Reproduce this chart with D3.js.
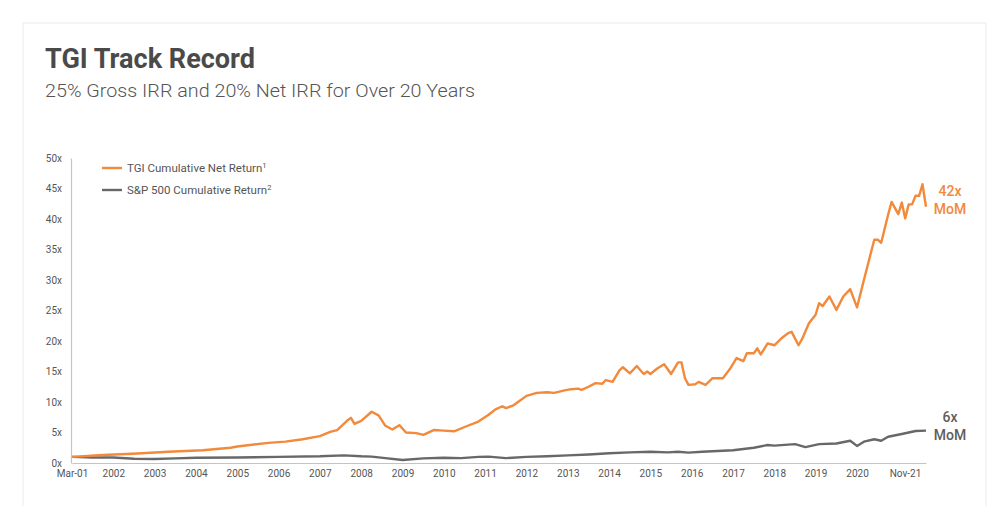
<!DOCTYPE html>
<html>
<head>
<meta charset="utf-8">
<script src="https://cdn.jsdelivr.net/npm/d3@7"></script>
<style>
  body { margin: 0; background: #fff; }
  text { font-family: "Roboto", "DejaVu Sans", sans-serif; }
</style>
</head>
<body>
<div id="chart"></div>
<script>
// TGI cumulative net return (x of initial capital)
const tgiDates = ["2001-03","2001-12","2002-10","2003-07","2004-05","2005-01","2005-03","2005-12","2006-05","2006-10",
  "2007-03","2007-06","2007-08","2007-11","2007-12","2008-01","2008-03","2008-06","2008-08","2008-10",
  "2008-12","2009-02","2009-04","2009-07","2009-09","2009-12","2010-03","2010-06","2010-09","2011-01",
  "2011-04","2011-06","2011-08","2011-09","2011-11","2012-01","2012-03","2012-06","2012-09","2012-11",
  "2013-02","2013-04","2013-06","2013-07","2013-09","2013-11","2014-01","2014-02","2014-04","2014-06",
  "2014-07","2014-09","2014-11","2015-01","2015-02","2015-03","2015-05","2015-07","2015-09","2015-11",
  "2015-12","2016-01","2016-02","2016-04","2016-05","2016-07","2016-09","2016-12","2017-02","2017-04",
  "2017-06","2017-07","2017-09","2017-10","2017-11","2018-01","2018-03","2018-05","2018-07","2018-08",
  "2018-10","2018-11","2019-01","2019-03","2019-04","2019-05","2019-07","2019-09","2019-11","2020-01",
  "2020-03","2020-05","2020-07","2020-08","2020-09","2020-10","2020-12","2021-01","2021-03","2021-04",
  "2021-05","2021-06","2021-07","2021-08","2021-09","2021-10","2021-11"];
const tgiValues = [1.0,1.3,1.55,1.85,2.1,2.5,2.7,3.3,3.5,3.9,
  4.4,5.1,5.4,7.0,7.4,6.4,6.9,8.4,7.8,6.1,
  5.5,6.2,5.0,4.9,4.6,5.4,5.3,5.2,5.9,6.8,
  7.9,8.8,9.3,9.0,9.4,10.2,11.0,11.5,11.6,11.5,
  11.9,12.1,12.2,12.0,12.5,13.1,13.0,13.6,13.3,15.2,
  15.7,14.7,15.9,14.6,15.0,14.6,15.5,16.2,14.6,16.5,
  16.5,13.9,12.8,12.9,13.3,12.8,13.9,13.9,15.4,17.2,
  16.7,18.0,18.0,18.8,17.8,19.6,19.3,20.4,21.3,21.5,
  19.3,20.3,22.9,24.3,26.2,25.7,27.3,25.1,27.3,28.5,
  25.5,30.0,34.4,36.6,36.6,36.1,40.7,42.8,40.8,42.7,
  40.1,42.4,42.4,43.8,43.8,45.7,42.0];

// S&P 500 cumulative return
const spDates = ["2001-03","2001-09","2002-03","2002-09","2003-03","2003-09","2004-03","2005-03","2006-03","2007-03",
  "2007-10","2008-03","2008-06","2008-10","2009-03","2009-09","2010-03","2010-08","2011-01","2011-04",
  "2011-09","2012-03","2012-09","2013-03","2013-09","2014-03","2014-09","2015-03","2015-08","2015-11",
  "2016-02","2016-06","2017-03","2017-09","2018-01","2018-03","2018-09","2018-12","2019-04","2019-09",
  "2020-01","2020-03","2020-05","2020-08","2020-10","2020-12","2021-04","2021-08","2021-11"];
const spValues = [1.0,0.9,0.9,0.7,0.65,0.75,0.85,0.9,1.0,1.1,
  1.25,1.1,1.05,0.8,0.5,0.75,0.85,0.8,1.0,1.05,
  0.8,1.0,1.1,1.25,1.4,1.6,1.75,1.85,1.75,1.85,
  1.7,1.85,2.1,2.5,2.95,2.85,3.1,2.6,3.1,3.2,
  3.65,2.8,3.5,3.9,3.65,4.3,4.75,5.25,5.3];

const yTicks = [0, 5, 10, 15, 20, 25, 30, 35, 40, 45, 50];
const xTickDates = ["2001-03","2002-03","2003-03","2004-03","2005-03","2006-03","2007-03","2008-03","2009-03","2010-03",
  "2011-03","2012-03","2013-03","2014-03","2015-03","2016-03","2017-03","2018-03","2019-03","2020-03","2021-11"];
const xTickLabels = ["Mar-01","2002","2003","2004","2005","2006","2007","2008","2009","2010",
  "2011","2012","2013","2014","2015","2016","2017","2018","2019","2020","Nov-21"];

const orange = "#f2893b";
const grey = "#686868";
const textGrey = "#555";

const W = 991, H = 506;
const parse = d3.timeParse("%Y-%m");

const tgi = tgiDates.map((d, i) => ({ date: parse(d), v: tgiValues[i] }));
const sp = spDates.map((d, i) => ({ date: parse(d), v: spValues[i] }));

const svg = d3.select("#chart").append("svg")
  .attr("width", W)
  .attr("height", H);

// card outline
svg.append("rect")
  .attr("x", 23).attr("y", 23)
  .attr("width", 963).attr("height", 520)
  .attr("fill", "none")
  .attr("stroke", "#ececec")
  .attr("stroke-width", 1);

// Title and subtitle
svg.append("text")
  .attr("x", 45).attr("y", 68)
  .attr("fill", "#4a4a4a")
  .style("font-size", "27px")
  .style("font-weight", "bold")
  .attr("textLength", 210)
  .attr("lengthAdjust", "spacingAndGlyphs")
  .text("TGI Track Record");

svg.append("text")
  .attr("x", 45).attr("y", 97)
  .attr("fill", textGrey)
  .style("font-size", "19px")
  .style("font-weight", 300)
  .attr("textLength", 430)
  .attr("lengthAdjust", "spacingAndGlyphs")
  .text("25% Gross IRR and 20% Net IRR for Over 20 Years");

// Scales
const x = d3.scaleTime()
  .domain([parse("2001-03"), parse("2021-11")])
  .range([72, 926]);

const y = d3.scaleLinear()
  .domain([0, 50])
  .range([463, 158]);

// Y axis
const yAxis = svg.append("g")
  .attr("transform", "translate(71,0)")
  .call(d3.axisLeft(y).tickValues(yTicks).tickSize(0).tickPadding(9).tickFormat(d => d + "x"));
yAxis.select(".domain").attr("stroke", "#c4c4c4").attr("stroke-width", 1.2);
yAxis.selectAll("text")
  .attr("fill", textGrey)
  .style("font-size", "10px")
  .style("font-family", "Roboto, sans-serif");

// X axis
const xAxis = svg.append("g")
  .attr("transform", "translate(0,463)")
  .call(d3.axisBottom(x)
    .tickValues(xTickDates.map(parse))
    .tickSize(0)
    .tickSizeOuter(0)
    .tickPadding(7)
    .tickFormat((d, i) => xTickLabels[i]));
xAxis.select(".domain").attr("stroke", "#c4c4c4").attr("stroke-width", 1.2);
xAxis.selectAll("text")
  .attr("fill", textGrey)
  .style("font-size", "10px")
  .style("font-family", "Roboto, sans-serif");
xAxis.selectAll(".tick").filter((d, i) => i === xTickLabels.length - 1)
  .select("text")
  .attr("dx", "-21");

// Lines
const line = d3.line()
  .x(d => x(d.date))
  .y(d => y(d.v));

svg.append("path")
  .datum(sp)
  .attr("d", line)
  .attr("fill", "none")
  .attr("stroke", grey)
  .attr("stroke-width", 2.4)
  .attr("stroke-linejoin", "round");

svg.append("path")
  .datum(tgi)
  .attr("d", line)
  .attr("fill", "none")
  .attr("stroke", orange)
  .attr("stroke-width", 2.4)
  .attr("stroke-linejoin", "round");

// Legend
const legendItems = [
  { label: "TGI Cumulative Net Return", sup: "1", color: orange, y: 168 },
  { label: "S&P 500 Cumulative Return", sup: "2", color: grey, y: 190 }
];
const legend = svg.append("g");
legendItems.forEach(item => {
  legend.append("line")
    .attr("x1", 102).attr("x2", 122)
    .attr("y1", item.y).attr("y2", item.y)
    .attr("stroke", item.color)
    .attr("stroke-width", 2.4);
  const t = legend.append("text")
    .attr("x", 127).attr("y", item.y + 4)
    .attr("fill", textGrey)
    .style("font-size", "11.5px")
    .text(item.label);
  t.append("tspan")
    .attr("dy", -4.5)
    .style("font-size", "7.5px")
    .text(item.sup);
});

// End labels (two lines each)
const endLabels = [
  { lines: ["42x", "MoM"], color: orange, x: 950, y: 196 },
  { lines: ["6x", "MoM"], color: "#5e5e5e", x: 950, y: 422 }
];
endLabels.forEach(lab => {
  lab.lines.forEach((s, i) => {
    svg.append("text")
      .attr("x", lab.x)
      .attr("y", lab.y + i * 17.5)
      .attr("text-anchor", "middle")
      .attr("fill", lab.color)
      .style("font-size", "14px")
      .style("font-weight", 500)
      .text(s);
  });
});
</script>
</body>
</html>
